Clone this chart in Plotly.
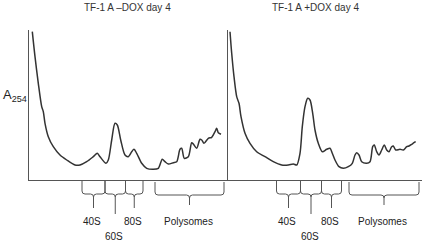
import plotly.graph_objects as go

W, H = 422, 243

# ---- data (x: position along gradient, y: A254, arbitrary units) ----
minus_x = [3.3, 6, 9.3, 12.7, 14.3, 16, 19.3, 24.3, 31, 37.7, 46, 51, 57.7, 64.3, 68.3, 71, 77, 79.3,
           82.7, 86, 88.3, 91.7, 96, 99.3, 102.7, 105, 107.7, 112.7, 117.7, 124.3, 129.3, 133.3, 136,
           139.3, 144.3, 147.7, 151, 152.7, 155.3, 159.3, 162.7, 164.3, 167.7, 171, 172.7, 175, 179.3,
           182.7, 186, 187.7, 189.3, 192]
minus_y = [148.3, 123.3, 96.7, 73.3, 68.3, 56.7, 43.3, 33.3, 25, 20, 15, 15, 18.3, 23.3, 26.7, 23.3, 16.7, 20,
           40, 56.7, 55, 40, 25, 23.3, 28.3, 30.7, 26.7, 16.7, 11.7, 10.7, 11.7, 20.7, 18.3,
           16, 17.3, 18.3, 30.7, 31.7, 21.7, 23.3, 37.3, 36, 31.7, 40.7, 40, 36.7, 41.7,
           42.7, 48.3, 51.7, 47.3, 45.7]

plus_x = [2, 3.7, 6, 8.7, 11, 13, 17, 22, 28.7, 37, 45.3, 53.7, 60.3, 65.3, 68.7, 72, 74.3, 77, 79.7, 82,
          84.7, 87, 90.3, 94.3, 98.7, 102, 104.3, 107, 111, 115.3, 120.3, 124.3, 127, 128.7, 131, 133.7,
          138.7, 142, 144.7, 146.3, 148.7, 151, 153.7, 156.3, 158.7, 161, 163.7, 165.3, 167.7, 172,
          175.3, 178.7, 181, 183.7, 186, 187.7]
plus_y = [148.3, 126.7, 103.3, 83.3, 76.7, 63.3, 46.7, 36.7, 28.3, 23.3, 18.3, 15, 15, 16, 15, 26.7, 53.3,
          73.3, 81.7, 80, 66.7, 50, 36.7, 28.3, 30.7, 31.7, 26.7, 20, 13.3, 11.7, 13.3, 16.7, 25, 27.3,
          25, 18.3, 16.7, 18.3, 33.3, 35, 28.3, 25, 30, 35, 30, 28.3, 33.3, 34, 30, 30.7,
          30, 33.3, 34, 35.7, 37.3, 38.3]

titles = ["TF-1 A \u2013DOX day 4", "TF-1 A +DOX day 4"]
fraction_labels = ["40S", "60S", "80S", "Polysomes"]
minus_bounds = [(53, 76), (76, 96.5), (96.5, 114), (126, 195)]
plus_bounds = [(48.5, 72.5), (72.5, 93.5), (93.5, 113.5), (121, 191)]

# ---- layout geometry (pixels) ----
LEFT0, MID, RIGHT1 = 29, 228, 422
TOP, BOT = 30, 180


def py(p):
    return 1 - p / H


fig = go.Figure()
fig.add_trace(go.Scatter(x=minus_x, y=minus_y, mode="lines", xaxis="x", yaxis="y",
                         line=dict(color="#333333", width=1.5, shape="spline", smoothing=0.8),
                         showlegend=False, hoverinfo="skip"))
fig.add_trace(go.Scatter(x=plus_x, y=plus_y, mode="lines", xaxis="x2", yaxis="y2",
                         line=dict(color="#333333", width=1.5, shape="spline", smoothing=0.8),
                         showlegend=False, hoverinfo="skip"))

axis_common = dict(showline=True, linecolor="#555555", linewidth=1, showgrid=False, zeroline=False,
                   showticklabels=False, ticks="", fixedrange=True)

fig.update_layout(
    width=W, height=H, autosize=False,
    margin=dict(l=0, r=0, t=0, b=0),
    paper_bgcolor="white", plot_bgcolor="white",
    font=dict(family="Liberation Sans, Arial, sans-serif", color="#222222"),
    xaxis=dict(domain=[LEFT0 / W, MID / W], range=[0, MID - LEFT0], anchor="y", **axis_common),
    yaxis=dict(domain=[py(BOT), py(TOP)], range=[0, BOT - TOP], anchor="x", **axis_common),
    xaxis2=dict(domain=[MID / W, RIGHT1 / W], range=[0, RIGHT1 - MID], anchor="y2", **axis_common),
    yaxis2=dict(domain=[py(BOT), py(TOP)], range=[0, BOT - TOP], anchor="x2", **axis_common),
)


def brace_path(x0, x1, top, h, tip, r=3):
    m = (x0 + x1) / 2
    pts = (f"M {x0},{py(top)} L {x0},{py(h - r)} Q {x0},{py(h)} {x0 + r},{py(h)} "
           f"L {m - r},{py(h)} Q {m},{py(h)} {m},{py(h + r)} L {m},{py(tip)} "
           f"M {m},{py(h + r)} Q {m},{py(h)} {m + r},{py(h)} "
           f"L {x1 - r},{py(h)} Q {x1},{py(h)} {x1},{py(h - r)} L {x1},{py(top)}")
    return pts


shapes = []
annotations = []
for xref, bounds in (("x", minus_bounds), ("x2", plus_bounds)):
    for i, (lab, (a, b)) in enumerate(zip(fraction_labels, bounds)):
        if lab == "Polysomes":
            top, h, tip = 182, 195, 205
        elif lab == "60S":
            top, h, tip = 181, 194, 214
        else:
            top, h, tip = 181, 194, 208
        shapes.append(dict(type="path", xref=xref, yref="paper",
                           path=brace_path(a, b, top, h, tip),
                           line=dict(color="#555555", width=1)))
        ty = 236 if lab == "60S" else 221
        annotations.append(dict(x=(a + b) / 2 - 1.5, y=py(ty), xref=xref, yref="paper",
                                text=lab, showarrow=False, xanchor="center", yanchor="middle",
                                font=dict(size=10, color="#222222")))

annotations.append(dict(x=127 / W, y=py(8), xref="paper", yref="paper", text=titles[0],
                        showarrow=False, xanchor="center", yanchor="middle",
                        font=dict(size=10, color="#333333")))
annotations.append(dict(x=315 / W, y=py(8), xref="paper", yref="paper", text=titles[1],
                        showarrow=False, xanchor="center", yanchor="middle",
                        font=dict(size=10, color="#333333")))
annotations.append(dict(x=1 / W, y=py(95), xref="paper", yref="paper",
                        text="A<sub>254</sub>", showarrow=False, xanchor="left", yanchor="middle",
                        font=dict(size=13, color="#222222")))

fig.update_layout(shapes=shapes, annotations=annotations)
fig.write_html("out.html", config={"displayModeBar": False},
               post_script="document.body.style.margin='0';document.body.style.padding='0';"
                           "document.documentElement.style.overflow='hidden';")
